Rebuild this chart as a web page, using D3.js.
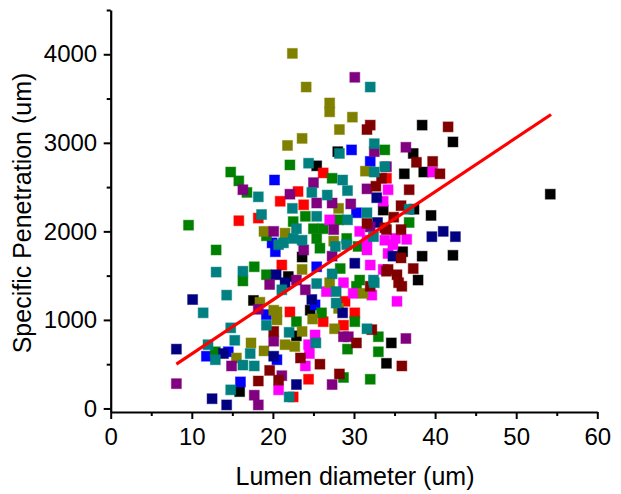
<!DOCTYPE html>
<html><head><meta charset="utf-8">
<script src="https://cdn.jsdelivr.net/npm/d3@7"></script>
<style>body{margin:0;background:#fff}</style>
</head><body><svg id="c" width="621" height="494"></svg>
<script>
const xTicks=[0,10,20,30,40,50,60];
const xMinor=[5,15,25,35,45,55];
const yTicks=[0,1000,2000,3000,4000];
const yMinor=[500,1500,2500,3500,4500];

const blackX=[28.0,38.4,42.2,37.3,36.2,38.6,54.2,37.4,39.5,33.6,36.0,38.4,42.2,37.9,34.6,34.0,25.4,23.6,21.9,24.6,22.9,17.6,15.9];
const blackY=[2900,3200,3010,2880,2650,2670,2420,2250,2180,2240,1770,1720,1730,1450,740,510,2740,1710,1490,1110,820,1220,190];
const redX=[26.2,23.1,20.9,23.8,18.2,15.8,34.0,21.1,22.1,28.9,26.2,30.1,28.7,24.4,22.5];
const redY=[2660,2450,2340,2300,2150,2120,2600,1620,1090,1210,980,1080,940,330,130];
const blueX=[29.7,32.0,20.2,19.9,20.3,30.3,25.4,25.2,20.5,19.2,11.8,14.5,16.0];
const blueY=[2920,2790,2580,1870,1770,2210,1600,1170,550,1060,590,640,300];
const greenX=[33.8,14.8,15.8,16.8,9.6,19.2,13.0,16.3,17.7,19.2,22.1,27.3,24.0,28.1,22.5,25.0,26.2,25.4,29.1,25.8,30.5,28.3,30.7,36.8,30.3,26.0,22.9,30.1,29.2,33.0,33.0,28.7,32.0,12.9];
const greenY=[2920,2670,2570,2440,2070,1950,1790,1440,1600,1510,2750,2600,2170,2130,2110,2030,2030,1920,1920,1810,1830,1580,1450,2100,1380,1080,980,980,670,810,640,350,330,640];
const magentaX=[39.7,34.2,33.6,35.1,36.5,34.8,34.2,33.6,35.3,27.0,30.7,31.6,33.8,31.6,32.0,26.6,29.9,32.2,28.7,25.2,24.4,24.5,24.0,20.7];
const magentaY=[2670,2470,2340,1920,1910,1850,1750,1570,1210,2130,2000,1900,1900,1790,1620,1320,1300,1280,1420,830,720,620,480,210];
const oliveX=[22.4,24.1,27.0,27.0,29.8,28.2,23.6,21.8,31.4,18.9,28.1,21.5,27.5,23.6,27.0,31.1,28.1,24.9,20.5,20.5,27.6,23.6,21.5,22.7,18.4,20.1,17.3,18.9,15.5];
const oliveY=[4010,3630,3450,3350,3290,3150,3050,2970,2680,2000,2260,1980,1890,1570,1420,1300,1130,1010,1090,1000,900,870,720,700,1200,1110,740,650,570];
const navyX=[32.8,32.9,39.6,41.0,42.5,34.8,20.4,30.1,21.5,24.8,28.6,20.1,22.9,10.1,8.1,13.9,12.5,14.3];
const navyY=[2380,2100,1940,2000,1940,1720,1510,1640,1420,1230,1080,590,270,1230,670,620,110,40];
const purpleX=[30.1,32.5,36.4,34.0,16.3,20.1,19.6,25.0,22.1,31.6,25.4,27.3,29.6,32.0,27.5,23.8,27.3,22.9,24.0,20.1,18.2,14.9,8.1,17.7,18.2,21.1,27.3,28.7,29.3,36.4];
const purpleY=[3740,2900,2950,2730,2470,2000,1400,2550,2420,2480,2320,2320,2310,2050,2020,1790,1720,1450,1340,760,1120,480,280,150,40,370,270,810,810,790];
const maroonX=[32.0,31.6,41.6,37.7,39.7,40.6,36.8,35.8,34.9,34.0,35.8,35.8,37.3,34.2,35.3,35.5,35.9,33.4,32.7,31.6,33.8,34.0,32.0,32.2,20.1,30.3,23.4,25.8,28.2,19.6,18.2,20.7,35.9];
const maroonY=[3200,3150,3180,2780,2790,2650,2470,2290,2160,2020,2020,1700,1580,1570,1510,1420,1380,2600,2510,2090,2040,1550,1380,890,870,740,570,500,390,430,310,320,480];
const tealX=[32.0,28.2,32.5,18.2,18.6,20.7,13.0,16.3,24.4,33.8,28.6,32.5,24.8,26.7,29.2,22.4,31.6,25.4,29.2,22.9,21.3,23.6,22.5,32.4,27.7,29.1,27.3,32.4,36.8,21.1,25.4,27.8,32.5,27.8,31.6,22.0,25.3,22.0,14.3,11.4,19.2,14.8,15.3,12.0,12.9,17.2,16.3,17.7,14.8];
const tealY=[3630,2880,2990,2390,2190,1850,1540,1550,2770,2730,2580,2670,2440,2410,2460,2260,2210,2170,2130,2030,1870,1900,1920,1940,1830,1850,1520,1450,2250,1340,1410,1320,1420,1190,900,860,740,130,1280,1080,940,910,770,720,550,620,490,480,210];

const fitX=[8.1,54.3];
const fitY=[500,3320];

const series=[
 {c:"#000000",x:blackX,y:blackY},
 {c:"#ff0000",x:redX,y:redY},
 {c:"#0000ff",x:blueX,y:blueY},
 {c:"#008000",x:greenX,y:greenY},
 {c:"#ff00ff",x:magentaX,y:magentaY},
 {c:"#808000",x:oliveX,y:oliveY},
 {c:"#000080",x:navyX,y:navyY},
 {c:"#800080",x:purpleX,y:purpleY},
 {c:"#800000",x:maroonX,y:maroonY},
 {c:"#008080",x:tealX,y:tealY}
];

const svg=d3.select("#c");
const xs=d3.scaleLinear().domain([0,60]).range([110.7,597.3]);
const ys=d3.scaleLinear().domain([-40,4500]).range([412,10]);
const font="'Liberation Sans', Arial, sans-serif";

// points
const pts=svg.append("g");
series.forEach(s=>{
  const d=s.x.map((v,i)=>[v,s.y[i]]);
  pts.selectAll(null).data(d).enter().append("rect")
    .attr("x",p=>xs(p[0])-5).attr("y",p=>ys(p[1])-5)
    .attr("width",10).attr("height",10)
    .attr("fill",s.c).attr("stroke",s.c).attr("stroke-opacity",0.45).attr("stroke-width",1);
});

// fit line
svg.append("path").datum(fitX.map((v,i)=>[v,fitY[i]]))
  .attr("d",d3.line().x(p=>xs(p[0])).y(p=>ys(p[1])))
  .attr("stroke","#ff0000").attr("stroke-width",3.2).attr("fill","none");

// axes
function style(g){
  g.select(".domain").attr("stroke","#000").attr("stroke-width",2.2);
  g.selectAll(".tick line").attr("stroke","#000").attr("stroke-width",2);
  g.selectAll("text").attr("font-family",font).attr("font-size",24).attr("fill","#000");
}
const gx=svg.append("g").attr("transform","translate(0,412)")
  .call(d3.axisBottom(xs).tickValues(xTicks).tickSize(7).tickSizeOuter(0).tickPadding(9).tickFormat(d3.format("d")));
style(gx);
const gxm=svg.append("g").attr("transform","translate(0,412)")
  .call(d3.axisBottom(xs).tickValues(xMinor).tickSize(4).tickSizeOuter(0).tickFormat(""));
gxm.select(".domain").remove(); gxm.selectAll(".tick line").attr("stroke","#000").attr("stroke-width",2);

const gy=svg.append("g").attr("transform","translate(110.7,0)")
  .call(d3.axisLeft(ys).tickValues(yTicks).tickSize(7).tickSizeOuter(0).tickPadding(6.5).tickFormat(d3.format("d")));
style(gy);
const gym=svg.append("g").attr("transform","translate(110.7,0)")
  .call(d3.axisLeft(ys).tickValues(yMinor).tickSize(4).tickSizeOuter(0).tickFormat(""));
gym.select(".domain").remove(); gym.selectAll(".tick line").attr("stroke","#000").attr("stroke-width",2);

// titles
svg.append("text").attr("x",355).attr("y",485).attr("text-anchor","middle")
  .attr("font-family",font).attr("font-size",25).text("Lumen diameter (um)");
svg.append("text").attr("transform","translate(31,213) rotate(-90)").attr("text-anchor","middle")
  .attr("font-family",font).attr("font-size",25).text("Specific Penetration (um)");
</script></body></html>
